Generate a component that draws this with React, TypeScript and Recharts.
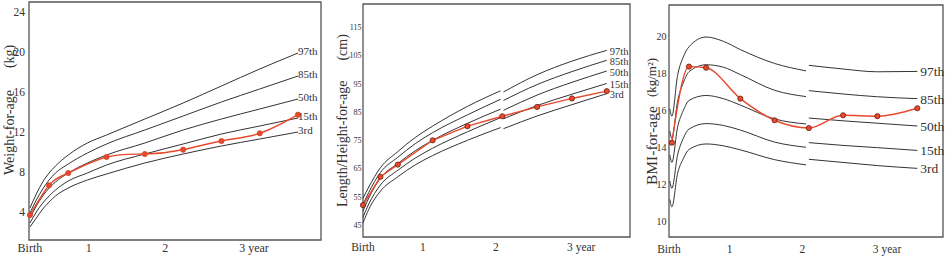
import { LineChart, Line, XAxis, YAxis, LabelList, ReferenceArea } from 'recharts'

const INK = '#333'
const FRAME = '#555'
const RED = '#e8492c'
const FONT = '"Liberation Serif", "Times New Roman", serif'

const percentileNames = ['97th', '85th', '50th', '15th', '3rd']
const xTickNames = ['Birth', '1', '2', '3 year']

// weight-for-age (kg)
const weightMonths = [0, 1, 2, 3, 4, 6, 9, 12, 18, 24, 30, 36, 42]
const weightP97 = [4.4, 5.8, 7.0, 7.9, 8.6, 9.7, 10.9, 11.7, 13.3, 14.9, 16.6, 18.3, 19.9]
const weightP85 = [3.9, 5.2, 6.3, 7.2, 7.9, 8.8, 9.9, 10.8, 12.2, 13.6, 15.0, 16.3, 17.6]
const weightP50 = [3.4, 4.6, 5.6, 6.4, 7.0, 7.9, 8.9, 9.7, 10.9, 12.2, 13.3, 14.3, 15.3]
const weightP15 = [2.9, 4.0, 4.9, 5.6, 6.2, 7.1, 7.9, 8.7, 9.8, 10.8, 11.8, 12.6, 13.4]
const weightP3 = [2.5, 3.4, 4.3, 5.0, 5.6, 6.4, 7.2, 7.8, 8.9, 9.8, 10.6, 11.3, 12.0]
const weightChildMonths = [0, 3, 6, 12, 18, 24, 30, 36, 42]
const weightChild = [3.7, 6.67, 7.9, 9.5, 9.8, 10.23, 11.1, 11.87, 13.73]
const weightXTicks = [0, 9.2, 21.2, 35.1]
const weightYTicks = [4, 8, 12, 16, 20, 24]

// length/height-for-age (cm), length up to 2 years then height
const lengthMonths = [0, 1, 3, 6, 9, 12, 18, 23.7]
const heightMonths = [24.2, 30, 36, 42]
const lengthP97 = [54.5, 58.5, 65.3, 71.0, 76.0, 80.0, 87.0, 92.5]
const heightP97 = [92.1, 98.2, 103.0, 106.8]
const lengthP85 = [52.3, 56.6, 63.6, 69.0, 73.8, 77.7, 84.0, 89.5]
const heightP85 = [89.1, 94.7, 99.3, 103.3]
const lengthP50 = [50.0, 54.6, 61.6, 66.8, 71.3, 75.0, 81.0, 86.0]
const heightP50 = [85.6, 91.0, 95.5, 99.5]
const lengthP15 = [47.8, 52.5, 59.2, 64.4, 68.7, 72.2, 78.0, 83.0]
const heightP15 = [82.6, 87.3, 91.3, 95.1]
const lengthP3 = [45.8, 50.6, 57.0, 62.1, 66.3, 69.6, 75.0, 79.5]
const heightP3 = [79.1, 83.6, 87.6, 91.5]
const lengthChildMonths = [0, 3, 6, 12, 18, 24, 30, 36, 42]
const lengthChild = [52.1, 62.1, 66.4, 75.0, 80.0, 83.5, 86.8, 89.8, 92.4]
const lengthXTicks = [0, 10.3, 22.9, 37.6]
const lengthYTicks = [45, 55, 65, 75, 85, 95, 105, 115]

// BMI-for-age (kg/m²)
const bmiEarlyMonths = [-0.35, 0, 1, 2, 3, 6, 9, 12, 18, 23.5]
const bmiLateMonths = [24, 30, 36, 43]
const bmiEarlyP97 = [16.1, 15.7, 17.9, 18.9, 19.45, 19.98, 19.75, 19.3, 18.55, 18.15]
const bmiLateP97 = [18.45, 18.25, 18.1, 18.12]
const bmiEarlyP85 = [14.9, 14.5, 16.5, 17.5, 18.1, 18.48, 18.35, 17.95, 17.1, 16.76]
const bmiLateP85 = [17.08, 16.9, 16.75, 16.65]
const bmiEarlyP50 = [13.6, 13.2, 15.1, 16.0, 16.55, 16.82, 16.65, 16.3, 15.55, 15.28]
const bmiLateP50 = [15.6, 15.45, 15.32, 15.17]
const bmiEarlyP15 = [12.2, 11.8, 13.6, 14.5, 15.0, 15.3, 15.2, 14.95, 14.3, 14.02]
const bmiLateP15 = [14.27, 14.12, 14.0, 13.85]
const bmiEarlyP3 = [11.2, 10.8, 12.6, 13.4, 13.9, 14.2, 14.1, 13.88, 13.35, 13.07]
const bmiLateP3 = [13.37, 13.2, 13.03, 12.88]
const bmiChildMonths = [0, 3, 6, 12, 18, 24, 30, 36, 43]
const bmiChild = [14.27, 18.38, 18.32, 16.65, 15.48, 15.06, 15.75, 15.7, 16.13]
const bmiXTicks = [-0.5, 10.1, 22.85, 37.7]
const bmiYTicks = [10, 12, 14, 16, 18, 20]

type Pt = { m: number; v: number }
const pts = (months: number[], values: number[]): Pt[] => months.map((m, i) => ({ m, v: values[i] }))

type PanelCfg = {
  left: number
  width: number
  yAxisWidth: number
  top: number
  right: number
  xAxisHeight: number
  xDomain: [number, number]
  yDomain: [number, number]
  xTicks: number[]
  yTicks: number[]
  xTickSize: number
  xTickDy: number
  yTickSize: number
  yTickGap: number
  curves: Pt[][][]
  labelSize: number
  labelDx: number
  labelDy: number
  child: Pt[]
  childType: 'natural' | 'linear' | 'monotone'
  dotStroke: string
  title: string
  unit: string
  titleX: number
  titleY: number
  titleSize: number
  unitSize: number
  unitGap: number
}

function Panel(c: PanelCfg) {
  const xTick = (p: any) => (
    <text x={p.x} y={p.y + c.xTickDy} textAnchor="middle" dominantBaseline="central"
      fontFamily={FONT} fontSize={c.xTickSize} fill={INK}>
      {xTickNames[c.xTicks.indexOf(p.payload.value)]}
    </text>
  )
  const title = () => (
    <text transform={`translate(${c.titleX},${c.titleY}) rotate(-90)`} dominantBaseline="central"
      fontFamily={FONT} fill={INK}>
      <tspan fontSize={c.titleSize}>{c.title}</tspan>
      <tspan fontSize={c.unitSize} dx={c.unitGap}>{c.unit}</tspan>
    </text>
  )
  return (
    <div style={{ position: 'absolute', left: c.left, top: 0 }}>
      <LineChart width={c.width} height={257} margin={{ top: c.top, right: c.right, left: 0, bottom: 0 }}>
        <XAxis type="number" dataKey="m" domain={c.xDomain} ticks={c.xTicks} interval={0}
          tick={xTick} tickLine={false} tickSize={0} tickMargin={0} height={c.xAxisHeight}
          axisLine={false} />
        <YAxis type="number" domain={c.yDomain} ticks={c.yTicks} interval={0} width={c.yAxisWidth}
          tickLine={false} tickSize={0} tickMargin={c.yTickGap}
          tick={{ fontFamily: FONT, fontSize: c.yTickSize, fill: INK }}
          axisLine={false} label={{ content: title }} />
        <ReferenceArea x1={c.xDomain[0]} x2={c.xDomain[1]} y1={c.yDomain[0]} y2={c.yDomain[1]}
          fill="none" stroke={FRAME} strokeWidth={1.3} ifOverflow="visible" />
        {c.curves.map((segs, ci) =>
          segs.map((seg, si) => (
            <Line key={`${ci}-${si}`} data={seg} dataKey="v" type="monotone" stroke={INK}
              strokeWidth={1} dot={false} activeDot={false} isAnimationActive={false}>
              {si === segs.length - 1 && (
                <LabelList dataKey="v" content={(p: any) =>
                  p.index === seg.length - 1 ? (
                    <text x={p.x + c.labelDx} y={p.y + c.labelDy} dominantBaseline="central"
                      fontFamily={FONT} fontSize={c.labelSize} fill={INK}>
                      {percentileNames[ci]}
                    </text>
                  ) : null
                } />
              )}
            </Line>
          ))
        )}
        <Line data={c.child} dataKey="v" type={c.childType} stroke={RED} strokeWidth={1.4}
          dot={{ r: 2.6, fill: RED, stroke: c.dotStroke, strokeWidth: 0.8 }} activeDot={false}
          isAnimationActive={false} />
      </LineChart>
    </div>
  )
}

const weightPanel: PanelCfg = {
  left: 0, width: 330, yAxisWidth: 29, top: 2, right: 9, xAxisHeight: 17,
  xDomain: [-0.15, 45.6], yDomain: [1.2, 25], xTicks: weightXTicks, yTicks: weightYTicks,
  xTickSize: 12, xTickDy: 8, yTickSize: 11.5, yTickGap: 4,
  curves: [
    [pts(weightMonths, weightP97)],
    [pts(weightMonths, weightP85)],
    [pts(weightMonths, weightP50)],
    [pts(weightMonths, weightP15)],
    [pts(weightMonths, weightP3)],
  ],
  labelSize: 11, labelDx: 0, labelDy: -2,
  child: pts(weightChildMonths, weightChild), childType: 'natural', dotStroke: '#d8402a',
  title: 'Weight-for-age', unit: '(kg)', titleX: 9, titleY: 175, titleSize: 14, unitSize: 14, unitGap: 22,
}

const lengthPanel: PanelCfg = {
  left: 322, width: 316, yAxisWidth: 41, top: 4, right: 8, xAxisHeight: 20,
  xDomain: [0, 46], yDomain: [40.8, 123.2], xTicks: lengthXTicks, yTicks: lengthYTicks,
  xTickSize: 11.5, xTickDy: 10, yTickSize: 8, yTickGap: 1.5,
  curves: [
    [pts(lengthMonths, lengthP97), pts(heightMonths, heightP97)],
    [pts(lengthMonths, lengthP85), pts(heightMonths, heightP85)],
    [pts(lengthMonths, lengthP50), pts(heightMonths, heightP50)],
    [pts(lengthMonths, lengthP15), pts(heightMonths, heightP15)],
    [pts(lengthMonths, lengthP3), pts(heightMonths, heightP3)],
  ],
  labelSize: 10.5, labelDx: 3, labelDy: 1,
  child: pts(lengthChildMonths, lengthChild), childType: 'linear', dotStroke: '#6a2012',
  title: 'Length/Height-for-age', unit: '(cm)', titleX: 19.7, titleY: 207, titleSize: 14, unitSize: 14, unitGap: 20,
}

const bmiPanel: PanelCfg = {
  left: 638, width: 310, yAxisWidth: 31, top: 5, right: 5, xAxisHeight: 20,
  xDomain: [-0.5, 47.5], yDomain: [9.17, 21.71], xTicks: bmiXTicks, yTicks: bmiYTicks,
  xTickSize: 11.5, xTickDy: 11.5, yTickSize: 10, yTickGap: 2.5,
  curves: [
    [pts(bmiEarlyMonths, bmiEarlyP97), pts(bmiLateMonths, bmiLateP97)],
    [pts(bmiEarlyMonths, bmiEarlyP85), pts(bmiLateMonths, bmiLateP85)],
    [pts(bmiEarlyMonths, bmiEarlyP50), pts(bmiLateMonths, bmiLateP50)],
    [pts(bmiEarlyMonths, bmiEarlyP15), pts(bmiLateMonths, bmiLateP15)],
    [pts(bmiEarlyMonths, bmiEarlyP3), pts(bmiLateMonths, bmiLateP3)],
  ],
  labelSize: 13.5, labelDx: 3, labelDy: 0.5,
  child: pts(bmiChildMonths, bmiChild), childType: 'monotone', dotStroke: '#6a2012',
  title: 'BMI-for-age', unit: '(kg/m²)', titleX: 12.5, titleY: 185, titleSize: 15.5, unitSize: 13, unitGap: 9,
}

export default function App() {
  return (
    <div style={{ position: 'absolute', left: 0, top: 0, width: 948, height: 257, background: '#fff' }}>
      <Panel {...weightPanel} />
      <Panel {...lengthPanel} />
      <Panel {...bmiPanel} />
    </div>
  )
}
